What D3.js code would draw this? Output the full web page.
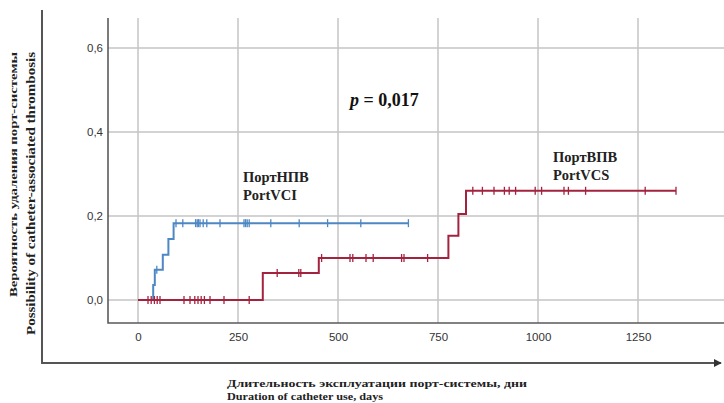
<!DOCTYPE html>
<html>
<head>
<meta charset="utf-8">
<script src="https://cdn.jsdelivr.net/npm/d3@7"></script>
<style>
  body { margin: 0; background: #fff; }
  svg { display: block; }
</style>
</head>
<body>
<div id="chart"></div>
<script>
// x / y ticks
const xTicks = [0, 250, 500, 750, 1000, 1250];
const yTicks = [0, 0.2, 0.4, 0.6];

// PortVCI (blue): [day, cumulative probability]
const vciSteps = [[0, 0], [38, 0.036], [42, 0.072], [62, 0.108], [76, 0.145], [89, 0.183], [676, 0.183]];
const vciCensored = [47, 95, 112, 144, 148, 151, 155, 163, 172, 205, 265, 269, 273, 278, 332, 403, 474, 557, 676];

// PortVCS (red)
const vcsSteps = [[0, 0], [312, 0.064], [452, 0.1], [776, 0.153], [801, 0.205], [820, 0.26], [1345, 0.26]];
const vcsCensored = [25, 33, 41, 48, 55, 115, 130, 142, 150, 158, 166, 180, 215, 278,
  348, 402, 407, 459, 530, 537, 570, 588, 659, 665, 724,
  837, 861, 890, 916, 928, 944, 993, 1009, 1065, 1076, 1119, 1268, 1345];

const width = 724, height = 403;
const plot = {left: 108, top: 18, right: 724, bottom: 323};
const blue = '#4d87c4', red = '#a3233f';

const svg = d3.select('#chart').append('svg')
  .attr('width', width)
  .attr('height', height);

const x = d3.scaleLinear().domain([0, 1250]).range([138, 638]);
const y = d3.scaleLinear().domain([0, 0.6]).range([300, 48]);

const comma = d3.formatLocale({decimal: ',', thousands: ' ', grouping: [3], currency: ['', '']});

// outer frame
svg.append('defs').append('marker')
  .attr('id', 'arr')
  .attr('viewBox', '0 0 10 10')
  .attr('refX', 9).attr('refY', 5)
  .attr('markerWidth', 4).attr('markerHeight', 4)
  .attr('orient', 'auto')
  .append('path').attr('d', 'M0,0L10,5L0,10Z').attr('fill', '#333');

svg.append('path')
  .attr('d', 'M42,10V363H721')
  .attr('fill', 'none')
  .attr('stroke', '#555')
  .attr('stroke-width', 2)
  .attr('marker-end', 'url(#arr)');

// grid
const grid = svg.append('g');
grid.selectAll('.gx').data(xTicks).enter().append('line')
  .attr('x1', d => x(d)).attr('x2', d => x(d))
  .attr('y1', plot.top).attr('y2', plot.bottom)
  .attr('stroke', '#c4c4c4').attr('stroke-width', 1.5);
grid.selectAll('.gy').data(yTicks).enter().append('line')
  .attr('x1', plot.left).attr('x2', plot.right)
  .attr('y1', d => y(d)).attr('y2', d => y(d))
  .attr('stroke', '#c4c4c4').attr('stroke-width', 1.5);

// axes
const yAxis = svg.append('g')
  .attr('transform', `translate(${plot.left},0)`)
  .call(d3.axisLeft(y).tickValues(yTicks).tickSize(0).tickPadding(5).tickFormat(comma.format('.1f')));
yAxis.select('.domain').remove();

const xAxis = svg.append('g')
  .attr('transform', `translate(0,${plot.bottom})`)
  .call(d3.axisBottom(x).tickValues(xTicks).tickSize(0).tickPadding(10).tickFormat(d3.format('d')));
xAxis.select('.domain').remove();

svg.selectAll('.tick text')
  .attr('font-family', 'Liberation Sans, Arial, sans-serif')
  .attr('font-size', 11.5)
  .attr('fill', '#333');

svg.append('path')
  .attr('d', `M${plot.left},${plot.top}V${plot.bottom}H${plot.right}`)
  .attr('fill', 'none')
  .attr('stroke', '#5a5a5a')
  .attr('stroke-width', 1.6);

// curves
const line = d3.line()
  .x(d => x(d[0]))
  .y(d => y(d[1]))
  .curve(d3.curveStepAfter);

const levelAt = (steps, t) => {
  let v = 0;
  steps.forEach(s => { if (s[0] <= t) v = s[1]; });
  return v;
};

const drawCurve = (steps, censored, color) => {
  const g = svg.append('g');
  g.append('path')
    .attr('d', line(steps))
    .attr('fill', 'none')
    .attr('stroke', color)
    .attr('stroke-width', 2);
  g.selectAll('line').data(censored).enter().append('line')
    .attr('x1', d => x(d)).attr('x2', d => x(d))
    .attr('y1', d => y(levelAt(steps, d)) - 4)
    .attr('y2', d => y(levelAt(steps, d)) + 4)
    .attr('stroke', color)
    .attr('stroke-width', 1.3);
};

// blue first, red sits on top along zero
drawCurve(vciSteps, vciCensored, blue);
drawCurve(vcsSteps, vcsCensored, red);

// labels
const serif = 'Liberation Serif, Times New Roman, serif';
const lab = (tx, ty, lines, size) => {
  const t = svg.append('text')
    .attr('font-family', serif)
    .attr('font-weight', 'bold')
    .attr('font-size', size)
    .attr('fill', '#222');
  lines.forEach((s, i) => {
    t.append('tspan').attr('x', tx).attr('y', ty + i * 18).text(s);
  });
};
lab(243, 182, ['ПортНПВ', 'PortVCI'], 14.5);
lab(553, 162, ['ПортВПВ', 'PortVCS'], 14.5);

const p = svg.append('text')
  .attr('x', 350).attr('y', 106)
  .attr('font-family', serif)
  .attr('font-weight', 'bold')
  .attr('font-size', 18)
  .attr('fill', '#111');
p.append('tspan').attr('font-style', 'italic').text('p');
p.append('tspan').text(' = 0,017');

// axis titles
svg.append('text')
  .attr('transform', 'translate(17,52) rotate(-90)')
  .attr('text-anchor', 'end')
  .attr('font-family', serif)
  .attr('font-weight', 'bold')
  .attr('font-size', 11)
  .attr('fill', '#222')
  .attr('textLength', 245)
  .attr('lengthAdjust', 'spacingAndGlyphs')
  .text('Вероятность удаления порт-системы');

svg.append('text')
  .attr('transform', 'translate(35,52) rotate(-90)')
  .attr('text-anchor', 'end')
  .attr('font-family', serif)
  .attr('font-weight', 'bold')
  .attr('font-size', 13)
  .attr('fill', '#222')
  .attr('textLength', 283)
  .attr('lengthAdjust', 'spacingAndGlyphs')
  .text('Possibility of catheter-associated thrombosis');

svg.append('text')
  .attr('x', 227).attr('y', 387)
  .attr('font-family', serif)
  .attr('font-weight', 'bold')
  .attr('font-size', 11)
  .attr('fill', '#222')
  .attr('textLength', 300)
  .attr('lengthAdjust', 'spacingAndGlyphs')
  .text('Длительность эксплуатации порт-системы, дни');

svg.append('text')
  .attr('x', 227).attr('y', 400)
  .attr('font-family', serif)
  .attr('font-weight', 'bold')
  .attr('font-size', 11)
  .attr('fill', '#222')
  .attr('textLength', 156)
  .attr('lengthAdjust', 'spacingAndGlyphs')
  .text('Duration  of catheter use, days');
</script>
</body>
</html>
